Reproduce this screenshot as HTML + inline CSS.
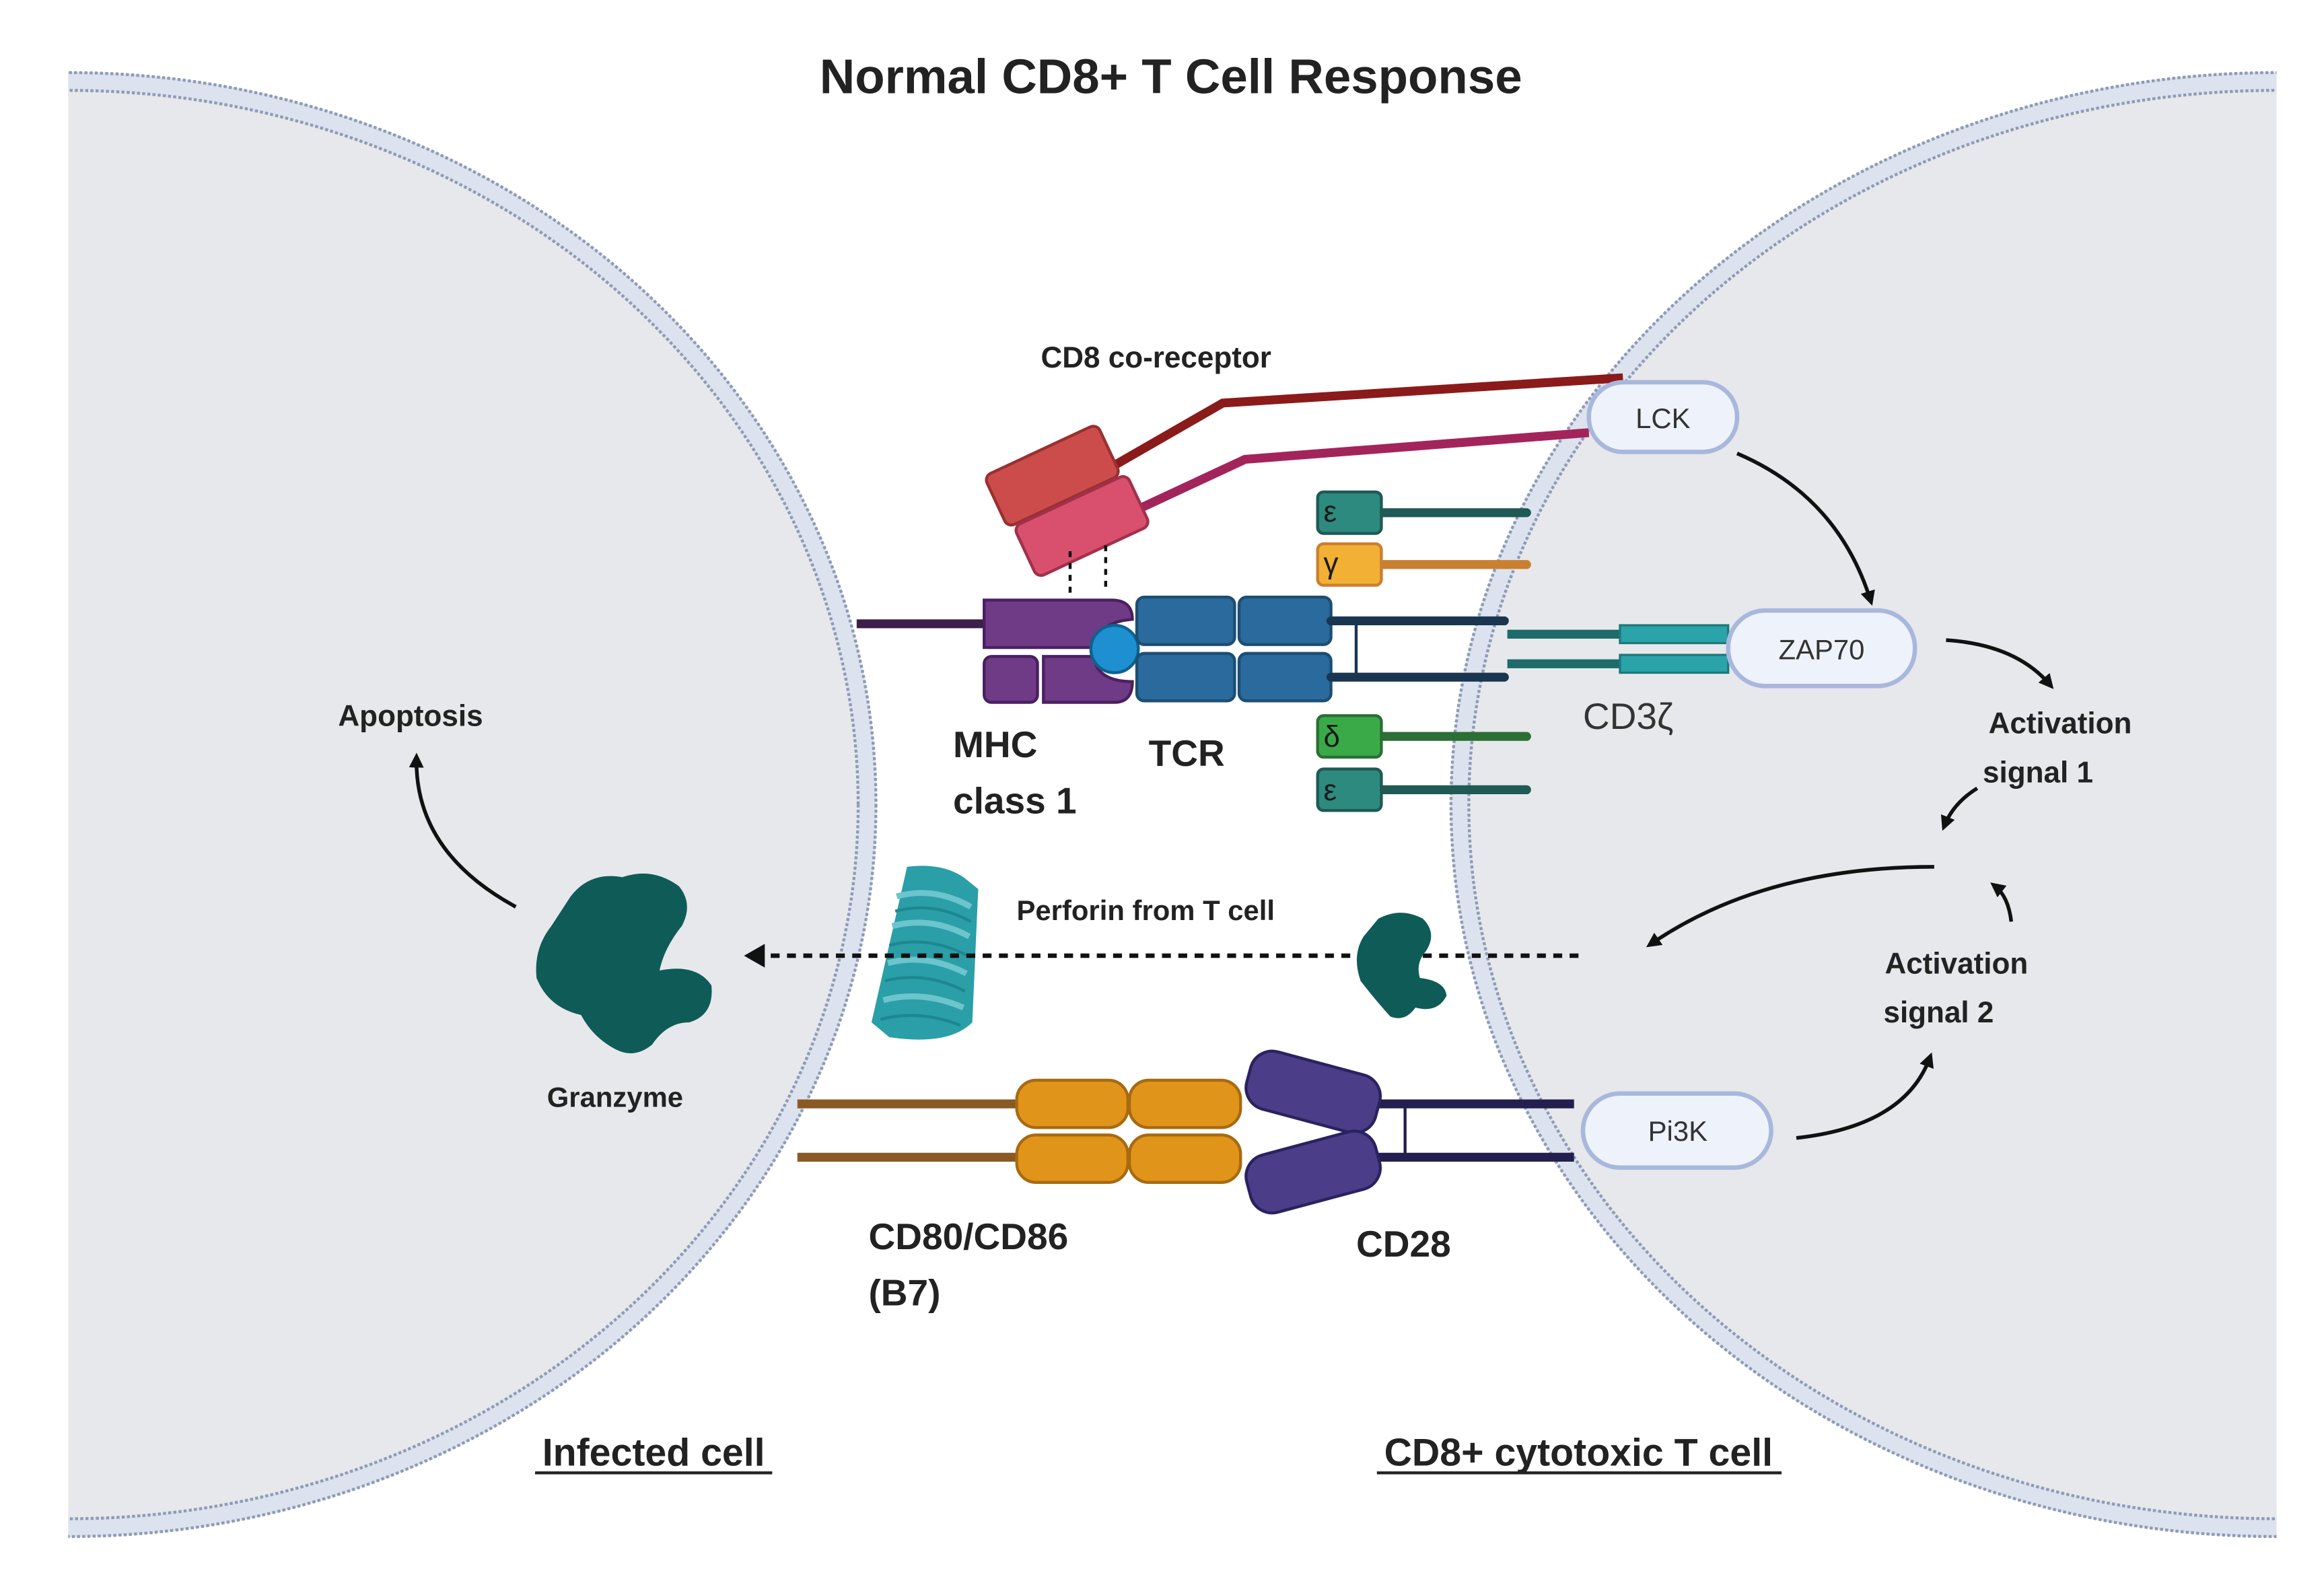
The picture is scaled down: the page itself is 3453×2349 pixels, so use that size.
<!DOCTYPE html>
<html><head><meta charset="utf-8"><style>
html,body{margin:0;padding:0;background:#fff;}
svg{display:block;}
text{font-family:"Liberation Sans",sans-serif;}
</style></head><body>
<svg width="3453" height="2349" viewBox="0 0 1568 1067" preserveAspectRatio="none" xmlns="http://www.w3.org/2000/svg">
<defs>
<clipPath id="c"><rect x="46" y="40" width="1490" height="1010"/></clipPath>
<marker id="ah" markerWidth="10" markerHeight="10" refX="6" refY="5" orient="auto" markerUnits="userSpaceOnUse"><path d="M0,0 L10,5 L0,10 Z" fill="#111"/></marker>
</defs>
<rect width="1568" height="1067" fill="#fff"/>
<g clip-path="url(#c)">
 <ellipse cx="46" cy="543" rx="539" ry="488" fill="#e7e8eb"/>
 <ellipse cx="1536" cy="543" rx="551" ry="488" fill="#e7e8eb"/>
 <ellipse cx="46" cy="543" rx="539" ry="488" fill="none" stroke="#dde3ee" stroke-width="13"/>
 <ellipse cx="46" cy="543" rx="545" ry="494" fill="none" stroke="#8e9bb5" stroke-width="2" stroke-dasharray="2 1.5"/>
 <ellipse cx="46" cy="543" rx="533" ry="482" fill="none" stroke="#8e9bb5" stroke-width="2" stroke-dasharray="2 1.5"/>
 <ellipse cx="1536" cy="543" rx="551" ry="488" fill="none" stroke="#dde3ee" stroke-width="13"/>
 <ellipse cx="1536" cy="543" rx="557" ry="494" fill="none" stroke="#8e9bb5" stroke-width="2" stroke-dasharray="2 1.5"/>
 <ellipse cx="1536" cy="543" rx="545" ry="482" fill="none" stroke="#8e9bb5" stroke-width="2" stroke-dasharray="2 1.5"/>
</g>
<text x="790" y="63" font-size="33" font-weight="bold" text-anchor="middle" fill="#222">Normal CD8+ T Cell Response</text>

<!-- CD8 -->
<text x="780" y="248" font-size="20" font-weight="bold" text-anchor="middle" fill="#222">CD8 co-receptor</text>
<polyline points="745,318 825,272 1095,255" fill="none" stroke="#8b1a1a" stroke-width="6"/>
<polyline points="765,345 840,310 1072,292" fill="none" stroke="#a3245a" stroke-width="6"/>
<rect x="-42" y="-19" width="84" height="38" rx="5" fill="#cc4c4c" stroke="#9a3030" stroke-width="2" transform="translate(710,321) rotate(-25)"/>
<rect x="-42" y="-19" width="84" height="38" rx="5" fill="#d9506f" stroke="#a3304a" stroke-width="2" transform="translate(730,355) rotate(-25)"/>
<line x1="722" y1="372" x2="722" y2="400" stroke="#111" stroke-width="2" stroke-dasharray="4 4"/>
<line x1="746" y1="368" x2="746" y2="400" stroke="#111" stroke-width="2" stroke-dasharray="4 4"/>

<!-- MHC -->
<line x1="578" y1="421" x2="666" y2="421" stroke="#3d1f4a" stroke-width="6"/>
<path d="M664,405 H750 Q764,405 764,418 Q740,420 738,437 H664 Z" fill="#6f3a86" stroke="#4a2060" stroke-width="2"/>
<rect x="664" y="443" width="36" height="31" rx="5" fill="#6f3a86" stroke="#4a2060" stroke-width="2"/>
<path d="M704,443 H738 Q740,460 764,460 Q764,474 752,474 H704 Z" fill="#6f3a86" stroke="#4a2060" stroke-width="2"/>
<circle cx="752" cy="438" r="16" fill="#1e8fd0" stroke="#10608e" stroke-width="2"/>

<!-- TCR -->
<rect x="767" y="403" width="66" height="32" rx="5" fill="#2a6a9c" stroke="#1c4e74" stroke-width="2"/>
<rect x="836" y="403" width="62" height="32" rx="5" fill="#2a6a9c" stroke="#1c4e74" stroke-width="2"/>
<rect x="767" y="441" width="66" height="32" rx="5" fill="#2a6a9c" stroke="#1c4e74" stroke-width="2"/>
<rect x="836" y="441" width="62" height="32" rx="5" fill="#2a6a9c" stroke="#1c4e74" stroke-width="2"/>
<line x1="898" y1="419" x2="1015" y2="419" stroke="#1a3550" stroke-width="6" stroke-linecap="round"/>
<line x1="898" y1="457" x2="1015" y2="457" stroke="#1a3550" stroke-width="6" stroke-linecap="round"/>
<line x1="915" y1="419" x2="915" y2="457" stroke="#1a3550" stroke-width="2"/>

<!-- CD3 chains -->
<g font-size="20" fill="#1a1a1a">
<line x1="930" y1="346" x2="1030" y2="346" stroke="#1f5a55" stroke-width="6" stroke-linecap="round"/>
<rect x="889" y="332" width="43" height="28" rx="4" fill="#2d8a7e" stroke="#1f5a55" stroke-width="2"/>
<text x="893" y="352">ε</text>
<line x1="930" y1="381" x2="1030" y2="381" stroke="#c98030" stroke-width="6" stroke-linecap="round"/>
<rect x="889" y="367" width="43" height="28" rx="4" fill="#f2b035" stroke="#c98030" stroke-width="2"/>
<text x="893" y="387">γ</text>
<line x1="930" y1="497" x2="1030" y2="497" stroke="#2c6e35" stroke-width="6" stroke-linecap="round"/>
<rect x="889" y="483" width="43" height="28" rx="4" fill="#3aaa48" stroke="#2c6e35" stroke-width="2"/>
<text x="893" y="504">δ</text>
<line x1="930" y1="533" x2="1030" y2="533" stroke="#1f5a55" stroke-width="6" stroke-linecap="round"/>
<rect x="889" y="519" width="43" height="28" rx="4" fill="#2d8a7e" stroke="#1f5a55" stroke-width="2"/>
<text x="893" y="540">ε</text>
</g>

<!-- CD3 zeta -->
<line x1="1017" y1="428" x2="1100" y2="428" stroke="#1d6b6a" stroke-width="6"/>
<line x1="1017" y1="448" x2="1100" y2="448" stroke="#1d6b6a" stroke-width="6"/>
<rect x="1093" y="422" width="73" height="12" fill="#2aa4a8" stroke="#1d7a7a" stroke-width="1.5"/>
<rect x="1093" y="442" width="73" height="12" fill="#2aa4a8" stroke="#1d7a7a" stroke-width="1.5"/>
<text x="1068" y="492" font-size="25" fill="#333">CD3ζ</text>

<!-- pills -->
<rect x="1072" y="258" width="100" height="47" rx="23" fill="#eef2fa" stroke="#a8b8dc" stroke-width="3"/>
<text x="1122" y="289" font-size="19" text-anchor="middle" fill="#333">LCK</text>
<rect x="1166" y="412" width="126" height="51" rx="25" fill="#eef2fa" stroke="#a8b8dc" stroke-width="3"/>
<text x="1229" y="445" font-size="19" text-anchor="middle" fill="#333">ZAP70</text>
<rect x="1068" y="738" width="127" height="50" rx="25" fill="#eef2fa" stroke="#a8b8dc" stroke-width="3"/>
<text x="1132" y="770" font-size="19" text-anchor="middle" fill="#333">Pi3K</text>

<!-- arrows -->
<g fill="none" stroke="#111" stroke-width="2.5" marker-end="url(#ah)">
<path d="M1172,306 Q1240,335 1262,405"/>
<path d="M1313,432 Q1360,435 1383,462"/>
<path d="M1334,532 Q1318,542 1312,557"/>
<path d="M1305,585 Q1190,585 1114,637"/>
<path d="M1357,622 Q1355,605 1346,598"/>
<path d="M1212,768 Q1285,760 1302,714"/>
<path d="M348,612 Q280,575 281,512"/>
</g>
<g font-size="20" font-weight="bold" fill="#222">
<text x="1390" y="495" text-anchor="middle">Activation</text>
<text x="1375" y="528" text-anchor="middle">signal 1</text>
<text x="1320" y="657" text-anchor="middle">Activation</text>
<text x="1308" y="690" text-anchor="middle">signal 2</text>
<text x="277" y="490" text-anchor="middle">Apoptosis</text>
<text x="415" y="747" text-anchor="middle" font-size="19">Granzyme</text>
<text x="773" y="621" text-anchor="middle" font-size="19">Perforin from T cell</text>
</g>

<!-- perforin -->
<g>
<path d="M612,585 Q635,582 650,592 L660,600 L656,690 Q640,706 600,700 L588,690 Z" fill="#2a9fa8"/>
<g fill="none" stroke="#6cc4cc" stroke-width="4">
<path d="M605,605 Q630,598 655,612"/><path d="M602,625 Q628,618 654,632"/>
<path d="M599,650 Q625,643 652,657"/><path d="M596,675 Q622,668 650,680"/>
</g>
<g fill="none" stroke="#1e8790" stroke-width="2">
<path d="M604,615 Q630,608 655,622"/><path d="M600,638 Q626,631 653,645"/><path d="M597,662 Q624,655 651,669"/><path d="M594,688 Q620,681 648,692"/>
</g>
</g>
<line x1="1065" y1="645" x2="515" y2="645" stroke="#111" stroke-width="3" stroke-dasharray="6 5"/>
<path d="M502,645 L516,637 L516,653 Z" fill="#111"/>

<!-- granzymes -->
<path d="M385,605 Q398,588 420,592 Q440,585 458,598 Q468,610 460,625 Q448,640 445,655 Q470,650 480,665 Q482,685 465,690 Q450,690 440,705 Q428,715 415,708 Q400,700 392,685 Q370,680 362,660 Q360,640 372,625 Z" fill="#0f5b57"/>
<path d="M930,620 Q945,612 960,620 Q970,630 962,642 Q955,650 958,660 Q975,662 976,672 Q970,684 955,680 Q948,690 938,686 Q928,675 918,662 Q912,645 920,632 Z" fill="#0f5b57"/>

<!-- CD80/86 -->
<line x1="538" y1="745" x2="690" y2="745" stroke="#8a5a25" stroke-width="6"/>
<line x1="538" y1="781" x2="690" y2="781" stroke="#8a5a25" stroke-width="6"/>
<g fill="#e0941a" stroke="#a86a10" stroke-width="2">
<rect x="686" y="729" width="75" height="32" rx="13"/>
<rect x="762" y="729" width="75" height="32" rx="13"/>
<rect x="686" y="766" width="75" height="32" rx="13"/>
<rect x="762" y="766" width="75" height="32" rx="13"/>
</g>
<!-- CD28 -->
<line x1="930" y1="745" x2="1062" y2="745" stroke="#232050" stroke-width="6"/>
<line x1="930" y1="781" x2="1062" y2="781" stroke="#232050" stroke-width="6"/>
<line x1="948" y1="745" x2="948" y2="781" stroke="#232050" stroke-width="2"/>
<rect x="-45" y="-20" width="90" height="40" rx="15" fill="#4b3d87" stroke="#2a2260" stroke-width="2" transform="translate(886,737) rotate(15)"/>
<rect x="-45" y="-20" width="90" height="40" rx="15" fill="#4b3d87" stroke="#2a2260" stroke-width="2" transform="translate(886,791) rotate(-15)"/>

<!-- labels -->
<g font-size="25" font-weight="bold" fill="#222">
<text x="643" y="511">MHC</text>
<text x="643" y="549">class 1</text>
<text x="775" y="517">TCR</text>
<text x="586" y="843">CD80/CD86</text>
<text x="586" y="881">(B7)</text>
<text x="915" y="848">CD28</text>
<text x="441" y="989" text-anchor="middle" font-size="26">Infected cell</text>
<text x="1065" y="989" text-anchor="middle" font-size="26">CD8+ cytotoxic T cell</text>
</g>
<line x1="361" y1="994" x2="521" y2="994" stroke="#222" stroke-width="2"/>
<line x1="929" y1="994" x2="1202" y2="994" stroke="#222" stroke-width="2"/>
</svg>
</body></html>
